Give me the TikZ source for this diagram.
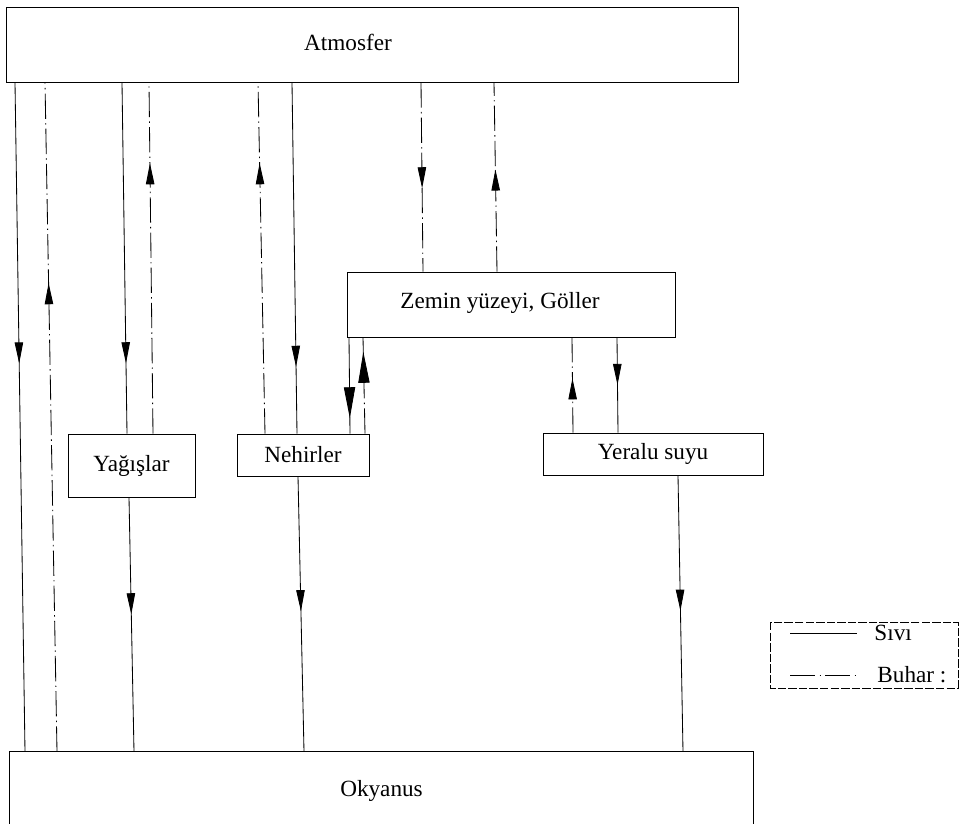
\documentclass[tikz,border=0pt]{standalone}
\usepackage{fontspec}
\setmainfont{Liberation Serif}
\usetikzlibrary{arrows.meta}
\usetikzlibrary{decorations.markings}
\newlength{\pxu}
\setlength{\pxu}{0.025cm}

\begin{document}
\begin{tikzpicture}[x=0.025cm,y=-0.025cm,line width=0.6pt,
  yazi/.style={inner sep=0pt,font=\fontsize{16.5}{19}\selectfont},
  kutu/.style={yazi,draw},
  sivi/.style={solid},
  buhar/.style={dash pattern=on 18pt off 3pt on 1pt off 3pt},
  ok/.style={postaction={decorate},decoration={markings,
    mark=at position #1 with {\arrow[solid]{Triangle[length=15pt,width=6pt]}}}},
  buyukok/.style={postaction={decorate},decoration={markings,
    mark=at position #1 with {\arrow[solid]{Triangle[length=22pt,width=8pt]}}}}]
\useasboundingbox (0,0) rectangle (960,823);

% kutular
\node[kutu,minimum width=732\pxu,minimum height=75\pxu] (atm) at (372,44.5) {};
\node[yazi] (atmyazi) at (348,42) {Atmosfer};
\node[kutu,minimum width=328\pxu,minimum height=65\pxu] (zemin) at (511,304.5) {};
\node[yazi] (zeminyazi) at (500,303) {Zemin yüzeyi, Göller};
\node[kutu,minimum width=127\pxu,minimum height=63\pxu] (yagis) at (131.5,465.5) {Yağışlar};
\node[kutu,minimum width=132\pxu,minimum height=42\pxu] (nehir) at (303,455) {Nehirler};
\node[kutu,minimum width=220\pxu,minimum height=42\pxu] (yeralti) at (653,454) {Yeralu suyu};
\node[yazi,minimum width=743\pxu,minimum height=78\pxu] (oky) at (381.5,791) {Okyanus};
\draw (oky.south west) |- (oky.north east) -- (oky.south east);

% akislar
\draw[sivi,ok=0.42] (atm.south -| 15,0) -- (oky.north -| 25,0);
\draw[buhar,ok=0.70] (oky.north -| 57,0) -- (atm.south -| 45,0);
\draw[sivi,ok=0.80] (atm.south -| 122,0) -- (yagis.north -| 127,0);
\draw[buhar,ok=0.77] (yagis.north -| 153,0) -- (atm.south -| 149,0);
\draw[buhar,ok=0.77] (nehir.north -| 265,0) -- (atm.south -| 258,0);
\draw[sivi,ok=0.81] (atm.south -| 292,0) -- (nehir.north -| 297,0);
\draw[buhar,ok=0.56] (atm.south -| 421,0) -- (zemin.north -| 423,0);
\draw[buhar,ok=0.54] (zemin.north -| 497,0) -- (atm.south -| 494,0);
\draw[sivi,buyukok=0.84] (zemin.south -| 349,0) -- (nehir.north -| 350,0);
\draw[buhar,buyukok=0.85] (nehir.north -| 365,0) -- (zemin.south -| 363,0);
\draw[buhar,ok=0.57] (yeralti.north -| 573,0) -- (zemin.south -| 572,0);
\draw[sivi,ok=0.5] (zemin.south -| 617,0) -- (yeralti.north -| 618,0);
\draw[sivi,ok=0.46] (yagis.south -| 129,0) -- (oky.north -| 134,0);
\draw[sivi,ok=0.49] (nehir.south -| 298,0) -- (oky.north -| 304,0);
\draw[sivi,ok=0.49] (yeralti.south -| 678,0) -- (oky.north -| 683,0);

% lejant
\draw[dash pattern=on 6pt off 1.5pt] (770,622) rectangle (958,688);
\draw[sivi] (790,633) -- (857,633);
\node[yazi,anchor=west] (lsivi) at (874,633) {Sıvı};
\draw[buhar] (790,675) -- (857,675);
\node[yazi,anchor=west] (lbuhar) at (877,675) {Buhar :};
\end{tikzpicture}
\end{document}
